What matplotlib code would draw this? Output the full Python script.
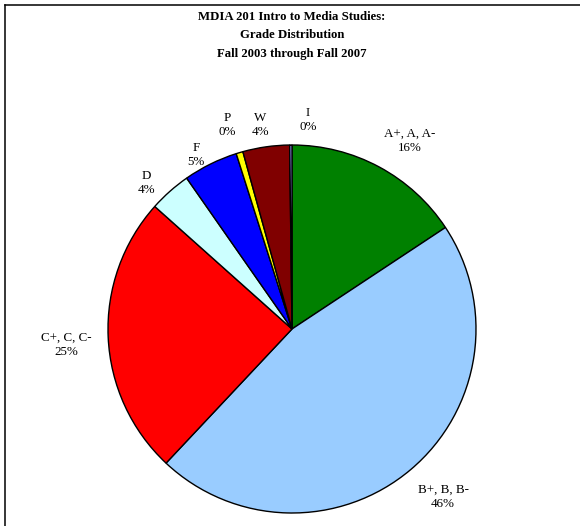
import matplotlib
matplotlib.use('Agg')
import matplotlib.pyplot as plt
from matplotlib.lines import Line2D

# grade distribution (percent of students)
grades = ['A+, A, A-', 'B+, B, B-', 'C+, C, C-', 'D', 'F', 'P', 'W', 'I']
shares = [15.7, 46.3, 24.6, 3.7, 4.8, 0.6, 4.1, 0.2]
shown_pct = ['16%', '46%', '25%', '4%', '5%', '0%', '4%', '0%']
colors = ['#008000', '#99CCFF', '#FF0000', '#CCFFFF', '#0000FF', '#FFFF00', '#800000', '#9999FF']
title_lines = ['MDIA 201 Intro to Media Studies:', 'Grade Distribution', 'Fall 2003 through Fall 2007']

W, H = 580, 526
fig = plt.figure(figsize=(W / 100, H / 100), dpi=100)
ax = fig.add_axes([0, 0, 1, 1])
plt.rcParams['font.family'] = 'Liberation Serif'

# pie drawn in pixel space, starting at 12 o'clock, going clockwise
ax.pie(shares, colors=colors, startangle=90, counterclock=False,
       center=(292, H - 329), radius=184, frame=True,
       wedgeprops={'edgecolor': 'black', 'linewidth': 1.0})
ax.set_xlim(0, W)
ax.set_ylim(0, H)
ax.set_aspect('auto')
ax.axis('off')

# label placement (Excel "best fit" style), pixel centres
label_xy = [(410, 141), (443, 497), (66, 345), (146, 183),
            (196, 155), (227, 125), (260, 125), (308, 120)]
for name, pct, (x, y) in zip(grades, shown_pct, label_xy):
    ax.text(x, H - y, name + '\n' + pct, ha='center', va='center',
            fontsize=9.4, linespacing=1.3, family='Liberation Serif')

for i, line in enumerate(title_lines):
    ax.text(292, H - (17 + 18.5 * i), line, ha='center', va='center',
            fontsize=9.2, fontweight='bold', family='Liberation Serif')

# chart area border (only top and left edges visible)
ax.add_line(Line2D([5, 5], [0, H - 5], color='black', linewidth=1.1))
ax.add_line(Line2D([5, W], [H - 5, H - 5], color='black', linewidth=1.1))

plt.savefig('out.png', dpi=100)
plt.close()
